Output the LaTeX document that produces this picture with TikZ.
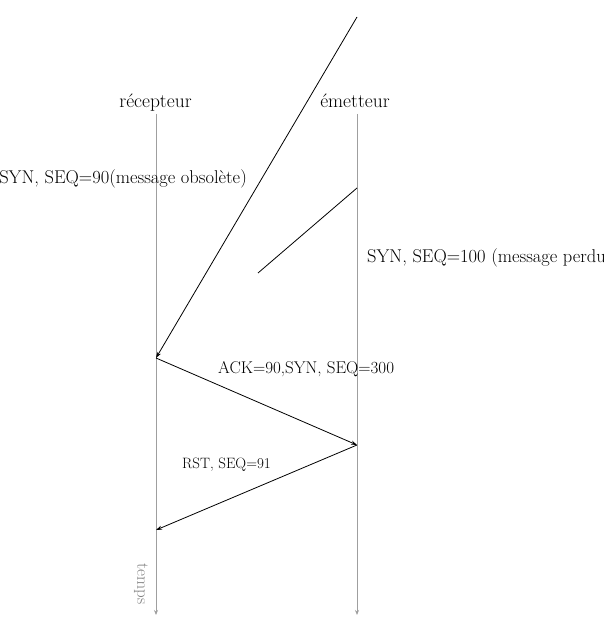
\documentclass[tikz,border=0pt]{standalone}
\usepackage{fontspec}
\usetikzlibrary{arrows.meta}
\begin{document}
\begin{tikzpicture}[x=1pt,y=-1pt,
  timeline/.style={draw=gray!75,line width=0.8pt,-{Stealth[length=5pt,width=4pt]}},
  msg/.style={draw=black,line width=0.8pt,-{Stealth[length=6pt,width=4pt]}},
  lbl/.style={font=\fontsize{17}{19}\selectfont,inner sep=0pt,anchor=base west},
  biglbl/.style={lbl,font=\fontsize{18.5}{21}\selectfont},
  headlbl/.style={lbl,anchor=base,font=\fontsize{19.5}{22}\selectfont}]
\useasboundingbox (0,0) rectangle (604,631);
\clip (0,0) rectangle (604,631);
\node[headlbl] (rec) at (155.5,108) {récepteur};
\node[headlbl] (emt) at (355,108) {émetteur};
\coordinate (r0) at (156,114);
\coordinate (r1) at (156,615);
\coordinate (e0) at (357,114);
\coordinate (e1) at (357,615);
\draw[timeline] (r0) -- (r1);
\draw[timeline] (e0) -- (e1);
\node[lbl,anchor=center,rotate=-90,text=gray] (temps) at (141,584) {temps};
\coordinate (old0) at (357,17);
\coordinate (ra) at (156,358);
\coordinate (lost0) at (357,188);
\coordinate (lost1) at (258,273);
\coordinate (eb) at (357,445);
\coordinate (rb) at (156,530);
\draw[msg] (old0) -- (ra);
\draw[draw=black,line width=0.8pt] (lost0) -- (lost1);
\draw[msg] (ra) -- (eb);
\draw[msg] (eb) -- (rb);
\node[biglbl,anchor=base east] (l1) at (247,183) {SYN, SEQ=90(message obsolète)};
\node[biglbl] (l2) at (367,262) {SYN, SEQ=100 (message perdu)};
\node[lbl] (l3) at (218,373) {ACK=90,SYN, SEQ=300};
\node[lbl,font=\fontsize{15}{17}\selectfont] (l4) at (182,468) {RST, SEQ=91};
\end{tikzpicture}
\end{document}
